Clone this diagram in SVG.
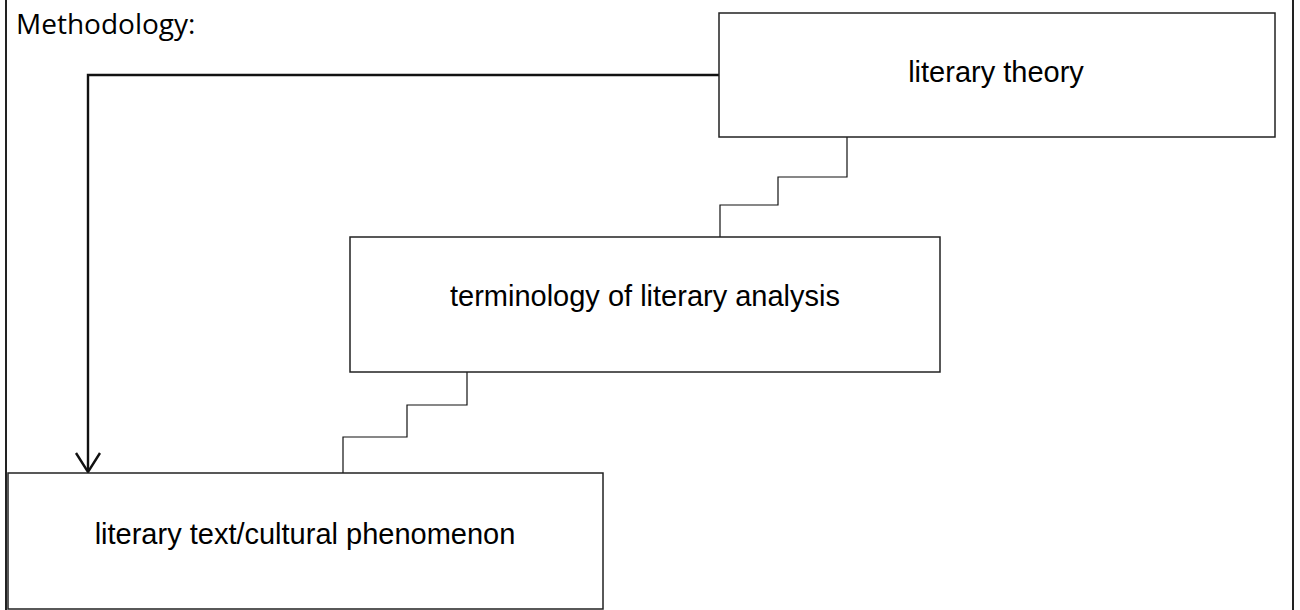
<svg xmlns="http://www.w3.org/2000/svg" width="1300" height="610" viewBox="0 0 1300 610">
<style>
.box{fill:#fff;stroke:#222;stroke-width:1.5}
.lbl{font-family:"Liberation Sans",Arial,sans-serif;font-size:29px;fill:#000;text-anchor:middle}
.step{fill:none;stroke:#111;stroke-width:1.2}
.arr{fill:none;stroke:#111;stroke-width:2.4}
</style>
<rect width="1300" height="610" fill="#fff"/>
<g id="frame">
<line x1="6" y1="0" x2="6" y2="610" stroke="#222" stroke-width="2"/>
<line x1="1293" y1="0" x2="1293" y2="610" stroke="#222" stroke-width="2"/>
<text x="16" y="34" style="font-family:'Open Sans','Noto Sans',sans-serif;font-size:28px;fill:#000">Methodology:</text>
</g>
<g id="connectors">
<path class="step" d="M847,137 V177 H778 V205 H720 V237"/>
<path class="step" d="M467,372 V405 H407 V437 H343 V473"/>
<path class="arr" d="M719,75 H88 V471"/>
<path class="arr" d="M76,453 L88,472 L100,453"/>
</g>
<g id="theory">
<rect class="box" x="719" y="13" width="556" height="124"/>
<text class="lbl" x="996" y="82">literary theory</text>
</g>
<g id="terminology">
<rect class="box" x="350" y="237" width="590" height="135"/>
<text class="lbl" x="645" y="306">terminology of literary analysis</text>
</g>
<g id="text">
<rect class="box" x="8" y="473" width="595" height="136"/>
<text class="lbl" x="305" y="544">literary text/cultural phenomenon</text>
</g>
</svg>
